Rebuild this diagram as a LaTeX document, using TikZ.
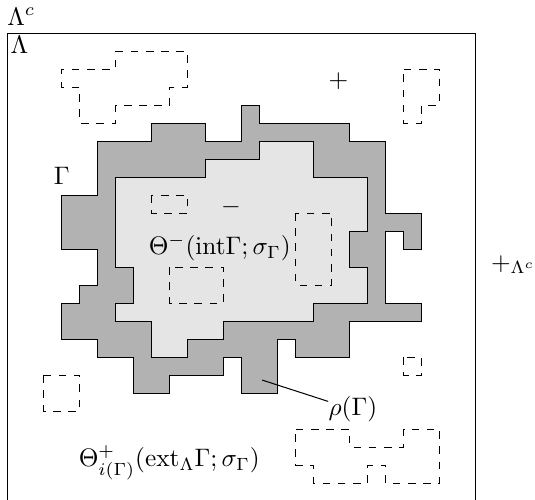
\documentclass[tikz,border=0pt]{standalone}
\usepackage{amsmath,amssymb}
\usetikzlibrary{positioning,calc}

\begin{document}
\begin{tikzpicture}[
    x=0.25cm, y=-0.25cm,
    frame/.style={draw, line width=0.4pt},
    rhoreg/.style={draw, fill=black!30, line width=0.4pt},
    intreg/.style={draw, fill=black!10, line width=0.4pt},
    contour/.style={draw, dashed, line width=0.4pt},
    lbl/.style={inner sep=0pt, anchor=base west},
  ]
    \useasboundingbox (-0.428,-1.833) rectangle (29.29,25.94);
    % the box Lambda
    \draw[frame] (0,0) rectangle (26,26);
    % support rho(Gamma) and interior of Gamma
    \draw[rhoreg] (3,9) -- (5,9) -- (5,6) -- (8,6) -- (8,5) -- (11,5) -- (11,6) -- (13,6) -- (13,4) -- (14,4)
      -- (14,5) -- (19,5) -- (19,6) -- (21,6) -- (21,10) -- (23,10) -- (23,12) -- (22,12) -- (22,11) -- (21,11)
      -- (21,15) -- (23,15) -- (23,16) -- (19,16) -- (19,18) -- (16,18) -- (16,17) -- (15,17) -- (15,20) -- (13,20)
      -- (13,18) -- (12,18) -- (12,19) -- (9,19) -- (9,20) -- (7,20) -- (7,18) -- (5,18) -- (5,17) -- (3,17)
      -- (3,15) -- (4,15) -- (4,14) -- (5,14) -- (5,12) -- (3,12) -- cycle;
    \draw[intreg] (6,8) -- (11,8) -- (11,7) -- (14,7) -- (14,6) -- (17,6) -- (17,8) -- (20,8) -- (20,11) -- (19,11)
      -- (19,13) -- (20,13) -- (20,15) -- (17,15) -- (17,16) -- (12,16) -- (12,17) -- (10,17) -- (10,18) -- (8,18)
      -- (8,16) -- (6,16) -- (6,15) -- (7,15) -- (7,13) -- (6,13) -- cycle;
    % other contours
    \draw[contour] (6,1) -- (10,1) -- (10,3) -- (9,3) -- (9,4) -- (6,4) -- (6,5) -- (4,5) -- (4,3) -- (3,3) -- (3,2) -- (6,2) -- cycle;
    \draw[contour] (22,2) -- (24,2) -- (24,4) -- (23,4) -- (23,5) -- (22,5) -- cycle;
    \draw[contour] (8,9) rectangle (10,10);
    \draw[contour] (16,10) rectangle (18,14);
    \draw[contour] (9,13) rectangle (12,15);
    \draw[contour] (2,19) rectangle (4,21);
    \draw[contour] (22,18) rectangle (23,19);
    \draw[contour] (16,22) -- (19,22) -- (19,23) -- (22,23) -- (22,22) -- (24,22) -- (24,25) -- (21,25) -- (21,24) -- (20,24)
      -- (20,25) -- (17,25) -- (17,24) -- (16,24) -- cycle;
    % labels
    \node[lbl] (lamc) at (-0.05,-0.44) {$\Lambda^c$};
    \node[lbl] (lam) at (0.13,1.13) {$\Lambda$};
    \node[lbl] (gam) at (2.53,8.4) {$\Gamma$};
    \node[inner sep=0pt] (plus) at (18.37,2.7) {$+$};
    \node[inner sep=0pt] (minus) at (12.4,9.7) {$-$};
    \node[lbl] (thetam) at (7.81,12.33) {$\Theta^{-}(\mathrm{int}\Gamma;\sigma_\Gamma)$};
    \node[lbl] (thetap) at (3.92,24.1) {$\Theta^{+}_{i(\Gamma)}(\mathrm{ext}_\Lambda\Gamma;\sigma_\Gamma)$};
    \node[lbl] (rho) at (17.8,21.26) {$\rho(\Gamma)$};
    \node[lbl] (bc) at (26.82,13.17) {$+_{\Lambda^c}$};
    % pointer to rho(Gamma)
    \coordinate (rhotip) at (14.14,19.28);
    \draw (rhotip) -- (rho);
\end{tikzpicture}
\end{document}
